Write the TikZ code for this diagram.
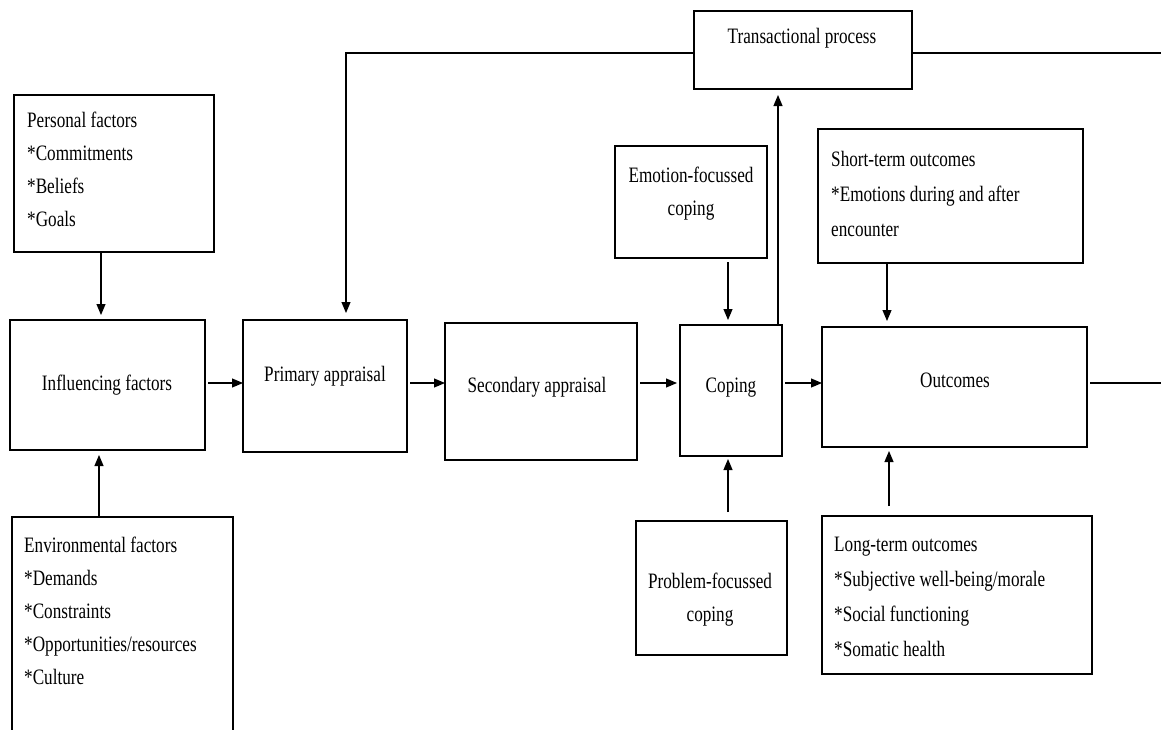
\documentclass[tikz,border=0pt]{standalone}
\usepackage{fontspec}
\setmainfont{Liberation Serif}[FakeStretch=0.78]
\usetikzlibrary{arrows.meta,calc}
\begin{document}
\begin{tikzpicture}[x=1pt,y=-1pt,
  box/.style={draw,line width=1.5pt,anchor=north west,inner sep=0pt,outer sep=0pt},
  txt/.style={inner sep=0pt,font=\fontsize{22}{33}\selectfont},
  ltxt/.style={txt,anchor=north west,align=left},
  ctxt/.style={txt,align=center},
  arr/.style={line width=1.1pt,-{Triangle[length=11pt,width=9pt]}},
  ln/.style={line width=1.3pt}]
\useasboundingbox (0,0) rectangle (1161,729);
\clip (0,0) rectangle (1161,729);
% boxes
\node[box,minimum width=200pt,minimum height=157pt] (pf) at (14,95) {};
\node[box,minimum width=195pt,minimum height=130pt] (inf) at (10,320) {};
\node[box,minimum width=221pt,minimum height=260pt] (env) at (12,517) {};
\node[box,minimum width=164pt,minimum height=132pt] (pa) at (243,320) {};
\node[box,minimum width=192pt,minimum height=137pt] (sa) at (445,323) {};
\node[box,minimum width=102pt,minimum height=131pt] (cop) at (680,325) {};
\node[box,minimum width=152pt,minimum height=112pt] (efc) at (615,146) {};
\node[box,minimum width=151pt,minimum height=134pt] (pfc) at (636,521) {};
\node[box,minimum width=265pt,minimum height=120pt] (out) at (822,327) {};
\node[box,minimum width=265pt,minimum height=134pt] (st) at (818,129) {};
\node[box,minimum width=270pt,minimum height=158pt] (lt) at (822,516) {};
\node[box,minimum width=218pt,minimum height=78pt] (tp) at (694,11) {};
% texts
\node[ltxt] (pft) at (27,112) {Personal factors\\*Commitments\\*Beliefs\\*Goals};
\node[ltxt] (envt) at (24,537) {Environmental factors\\*Demands\\*Constraints\\*Opportunities/resources\\*Culture};
\node[ctxt] (inft) at (107,385) {Influencing factors};
\node[ctxt] (pat) at (325,376) {Primary appraisal};
\node[ctxt] (sat) at (537,387) {Secondary appraisal};
\node[ctxt] (copt) at (731,388) {Coping};
\node[ctxt] (efct) at (691,194) {Emotion-focussed\\coping};
\node[ctxt] (pfct) at (710,600) {Problem-focussed\\coping};
\node[ctxt] (outt) at (955,380) {Outcomes};
\node[ltxt,font=\fontsize{22}{35}\selectfont] (stt) at (831,151) {Short-term outcomes\\*Emotions during and after\\encounter};
\node[ltxt,font=\fontsize{22}{35}\selectfont] (ltt) at (834,537) {Long-term outcomes\\*Subjective well-being/morale\\*Social functioning\\*Somatic health};
\node[ctxt] (tpt) at (802,38) {Transactional process};
% helper coordinates
\coordinate (row) at (0,383);
\coordinate (trow) at (0,53);
\coordinate (redge) at (1161,383);
\coordinate (tedge) at (1161,53);
\coordinate (pfx) at (101,0);
\coordinate (envx) at (99,0);
\coordinate (pax) at (346,0);
\coordinate (copx) at (728,0);
\coordinate (tpx) at (778,0);
\coordinate (stx) at (887,0);
\coordinate (ltx) at (889,0);
% connectors
\draw[arr,shorten >=5pt] (pf.south -| pfx) -- (inf.north -| pfx);
\draw[arr,shorten >=5pt] (env.north -| envx) -- (inf.south -| envx);
\draw[arr,shorten <=3pt] (inf.east |- row) -- (pa.west |- row);
\draw[arr,shorten <=3pt] (pa.east |- row) -- (sa.west |- row);
\draw[arr,shorten <=3pt,shorten >=3pt] (sa.east |- row) -- (cop.west |- row);
\draw[arr,shorten <=3pt] (cop.east |- row) -- (out.west |- row);
\draw[ln,shorten <=3pt] (out.east |- row) -- (redge);
\draw[arr,shorten <=4pt,shorten >=5pt] (efc.south -| copx) -- (cop.north -| copx);
\draw[arr,shorten <=9pt,shorten >=3pt] (pfc.north -| copx) -- (cop.south -| copx);
\draw[arr,shorten >=6pt] (cop.north -| tpx) -- (tp.south -| tpx);
\draw[arr,shorten >=7pt] (tp.west |- trow) -- (pax |- trow) -- (pa.north -| pax);
\draw[ln] (tp.east |- trow) -- (tedge);
\draw[arr,shorten >=6pt] (st.south -| stx) -- (out.north -| stx);
\draw[arr,shorten <=10pt,shorten >=4pt] (lt.north -| ltx) -- (out.south -| ltx);
\end{tikzpicture}
\end{document}
